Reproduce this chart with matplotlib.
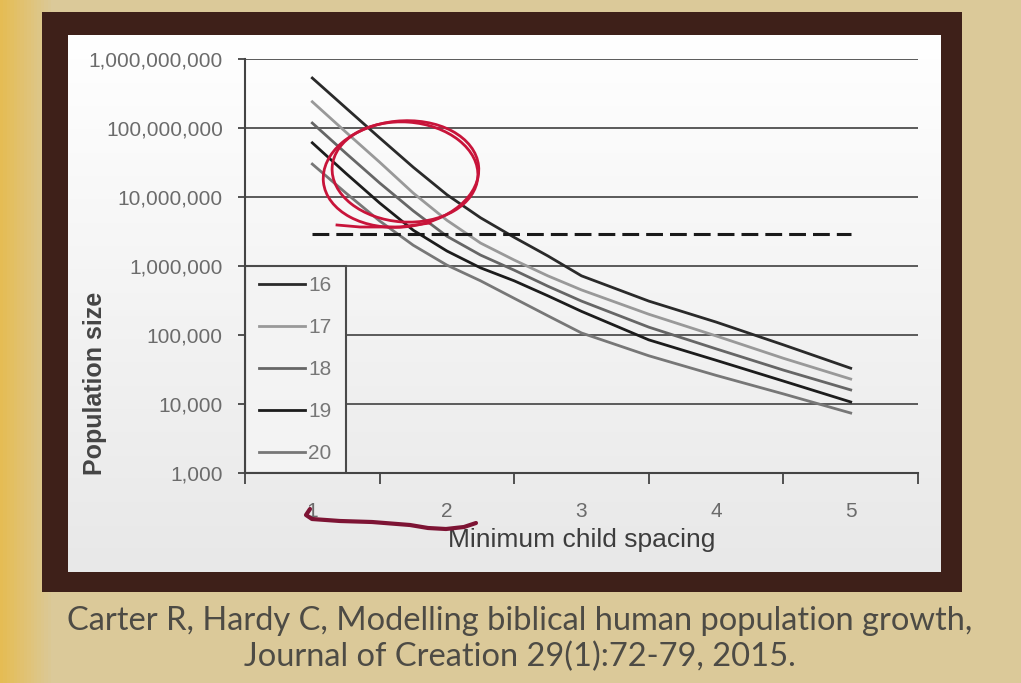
import numpy as np
import matplotlib.pyplot as plt
from matplotlib.patches import Rectangle, Ellipse
from matplotlib.ticker import FixedLocator, FixedFormatter, NullLocator, NullFormatter, FuncFormatter

plt.rcParams['font.family'] = ['Liberation Sans', 'DejaVu Sans']

# values: population size vs minimum child spacing
spacing = [1, 1.25, 1.5, 1.75, 2, 2.25, 2.5, 2.75, 3, 3.5, 4, 4.5, 5]
pop_16 = [5.3e8, 1.95e8, 7.2e7, 2.7e7, 1.08e7, 5.0e6, 2.6e6, 1.4e6, 7.2e5, 3.1e5, 1.54e5, 7.2e4, 3.3e4]
pop_17 = [2.4e8, 8.7e7, 3.2e7, 1.14e7, 4.6e6, 2.15e6, 1.22e6, 7.2e5, 4.5e5, 2.0e5, 9.7e4, 4.6e4, 2.3e4]
pop_18 = [1.18e8, 4.3e7, 1.6e7, 6.3e6, 2.7e6, 1.44e6, 8.7e5, 5.1e5, 3.1e5, 1.3e5, 6.3e4, 3.1e4, 1.6e4]
pop_19 = [6.1e7, 2.2e7, 8.2e6, 3.3e6, 1.65e6, 9.4e5, 6.1e5, 3.7e5, 2.2e5, 8.5e4, 4.3e4, 2.15e4, 1.07e4]
pop_20 = [3.0e7, 1.14e7, 4.5e6, 2.0e6, 1.03e6, 6.1e5, 3.4e5, 1.9e5, 1.07e5, 5.0e4, 2.6e4, 1.4e4, 7.4e3]
series = [pop_16, pop_17, pop_18, pop_19, pop_20]
series_labels = ['16', '17', '18', '19', '20']
series_colors = ['#2a2a2a', '#999999', '#666666', '#1c1c1c', '#777777']

threshold_x = [1, 5]
threshold_y = [2.9e6, 2.9e6]

x_label_pos = [1, 2, 3, 4, 5]
x_labels = ['1', '2', '3', '4', '5']
x_tick_marks = [0.5, 1.5, 2.5, 3.5, 4.5, 5.5]
y_ticks = [1e3, 1e4, 1e5, 1e6, 1e7, 1e8, 1e9]

caption1 = 'Carter R, Hardy C, Modelling biblical human population growth,'
caption2 = 'Journal of Creation 29(1):72-79, 2015.'

W, H = 1021, 683
fig = plt.figure(figsize=(W / 100, H / 100), dpi=100)

# slide background, dark frame and white panel (pixel coords)
bg = fig.add_axes([0, 0, 1, 1], zorder=0)
gold = np.array([0.90, 0.74, 0.33])
beige = np.array([0.86, 0.79, 0.60])
t = np.clip(np.linspace(0, 1, 300) / 0.05, 0, 1)[None, :, None]
bg.imshow(gold * (1 - t) + beige * t, extent=(0, W, H, 0), aspect='auto', zorder=0)
bg.add_patch(Rectangle((42, 12), 920, 580, fc='#3e2019', ec='none', zorder=1))
shade = np.linspace(1.0, 0.91, 200)[:, None, None] * np.ones((1, 1, 3))
bg.imshow(shade, extent=(68, 940, 572, 35), aspect='auto', zorder=2)
bg.set_xlim(0, W)
bg.set_ylim(H, 0)
bg.axis('off')

fig.text(520 / W, 1 - 621 / H, caption1, ha='center', va='center',
         fontsize=23.5, family='Lato', color='#4d4b45')
fig.text(520 / W, 1 - 657 / H, caption2, ha='center', va='center',
         fontsize=23.5, family='Lato', color='#4d4b45')

# the chart itself
ax = fig.add_axes([245 / W, 1 - 473 / H, 673 / W, 414 / H], zorder=2)
ax.set_facecolor('none')
for vals, lab, col in zip(series, series_labels, series_colors):
    ax.plot(spacing, vals, color=col, lw=2.0, label=lab)
ax.plot(threshold_x, threshold_y, color='#1a1a1a', lw=2.2, dashes=(5.5, 2.3))

ax.set_yscale('log')
ax.set_ylim(y_ticks[0], y_ticks[-1])
ax.set_xlim(0.5, 5.5)
ax.yaxis.set_major_locator(FixedLocator(y_ticks))
ax.yaxis.set_minor_locator(NullLocator())
ax.yaxis.set_major_formatter(FuncFormatter(lambda v, p: f'{int(round(v)):,}'))
ax.xaxis.set_major_locator(FixedLocator(x_tick_marks))
ax.xaxis.set_major_formatter(NullFormatter())
ax.xaxis.set_minor_locator(FixedLocator(x_label_pos))
ax.xaxis.set_minor_formatter(FixedFormatter(x_labels))

ax.tick_params(axis='y', length=5, width=1.3, color='#444444', pad=11,
               labelsize=15, labelcolor='#6b6b6b')
ax.tick_params(axis='x', which='major', length=8, width=1.3, color='#444444')
ax.tick_params(axis='x', which='minor', length=0, pad=21,
               labelsize=15, labelcolor='#6b6b6b')

ax.set_axisbelow(True)
ax.yaxis.grid(True, color='#5a5a5a', lw=1.4)
for s in ['top', 'right']:
    ax.spines[s].set_visible(False)
for s in ['left', 'bottom']:
    ax.spines[s].set_color('#444444')
    ax.spines[s].set_linewidth(1.5)

ax.set_ylabel('Population size', fontsize=18, fontweight='bold', color='#454545')
ax.yaxis.set_label_coords(-0.205, 0.217)
ax.set_xlabel('Minimum child spacing', fontsize=19, color='#3d3d3d', labelpad=5)

# legend box
ax.add_patch(Rectangle((0, 0), 0.15, 0.5, transform=ax.transAxes,
                       fc='#f3f3f3', ec='#4a4a4a', lw=1.5, zorder=2.5))
leg = ax.legend(loc='center', bbox_to_anchor=(0, 0, 0.15, 0.5), frameon=False,
                fontsize=15, labelcolor='#777777', handlelength=2.2,
                handletextpad=0.15, labelspacing=1.1)
leg.set_zorder(3)

# hand-drawn red annotation on the slide
ov = fig.add_axes([0, 0, 1, 1], zorder=5)
ov.set_facecolor('none')
ov.set_xlim(0, W)
ov.set_ylim(H, 0)
ov.axis('off')
ov.add_patch(Ellipse((401, 174), 156, 106, angle=-6, fill=False, ec='#c8143a', lw=2))
ov.add_patch(Ellipse((405, 172), 146, 100, angle=4, fill=False, ec='#c8143a', lw=2))
ov.plot([337, 360, 400, 430], [225, 227, 227, 223], color='#c8143a', lw=2)
ov.plot([310, 306, 312, 340, 372, 410, 428, 446, 464, 476],
        [509, 515, 519, 521, 522, 525, 528, 529, 527, 523],
        color='#7d1434', lw=3, solid_capstyle='round')

fig.savefig('out.png', dpi=100)
